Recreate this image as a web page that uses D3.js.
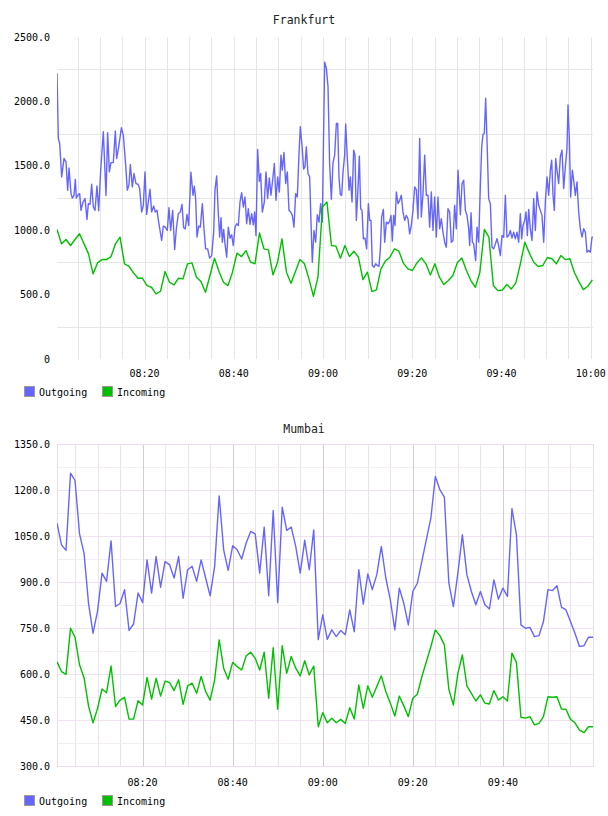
<!DOCTYPE html>
<html>
<head>
<meta charset="utf-8">
<script src="https://cdn.jsdelivr.net/npm/d3@7"></script>
<style>
  body { margin: 0; background: #fff; }
  svg { display: block; font-family: "DejaVu Sans Mono", monospace; }
</style>
</head>
<body>
<svg id="viz" width="608" height="816"></svg>
<script>
// === DATA ===
const seriesNames = ["Outgoing", "Incoming"];
const seriesColors = ["#6666ff", "#00c000"];

// Frankfurt outgoing: [minutes after 08:00, value]
const frankfurtOutgoing = [
  [0.39,2219],[0.69,1712],[0.99,1673],[1.44,1414],[1.96,1557],[2.41,1530],[2.78,1310],[3.08,1484],[3.53,1284],[3.83,1250],
  [4.20,1270],[4.50,1395],[4.72,1250],[5.17,1276],[5.47,1284],[5.77,1154],[6.22,1219],[6.67,1245],[7.11,1084],[7.41,1206],
  [7.79,1201],[8.16,1357],[8.53,1180],[8.91,1154],[9.35,1344],[9.73,1151],[10.18,1466],[10.77,1764],[11.37,1270],[11.74,1757],
  [12.12,1453],[12.49,1525],[13.01,1525],[13.46,1770],[13.76,1557],[14.28,1660],[14.81,1795],[15.25,1738],[15.78,1505],[16.15,1310],
  [16.52,1354],[16.82,1510],[17.27,1336],[17.64,1440],[18.09,1362],[18.54,1357],[18.91,1323],[19.36,1141],[19.74,1193],[20.11,1453],
  [20.48,1123],[20.85,1219],[21.23,1318],[21.60,1141],[22.05,1188],[22.42,1141],[22.80,1154],[23.17,1063],[23.54,985],[23.84,920],
  [24.22,1032],[24.66,1024],[25.11,998],[25.48,1175],[25.86,998],[26.31,1154],[26.76,850],[27.13,1011],[27.58,1128],[28.02,1141],
  [28.40,1201],[28.77,1019],[29.14,1011],[29.52,1123],[29.89,1037],[30.40,1450],
  [30.87,1271],[31.16,1341],[31.46,1245],[31.76,946],[32.14,1032],[32.51,1024],[32.96,1206],[33.33,1011],[33.70,855],[34.15,855],
  [34.60,783],[35.05,803],[35.50,985],[35.79,1310],[36.17,1422],[36.54,1128],[36.84,946],[37.14,1097],[37.44,907],[37.74,1006],
  [38.04,894],[38.41,790],[38.78,1024],[39.16,939],[39.53,964],[39.90,881],[40.28,1024],[40.65,1050],[41.02,1037],[41.40,1219],
  [41.77,1292],[42.14,1180],[42.52,1258],[42.89,1050],[43.26,1167],[43.64,1045],[44.01,1128],[44.38,1042],[44.68,1141],[44.98,959],
  [45.35,1627],[45.73,1380],[46.03,1440],[46.40,1141],[46.85,1219],[47.22,1453],[47.59,1245],[47.97,1406],[48.34,1271],[48.71,1388],
  [49.09,1518],[49.46,1232],[49.84,1414],[50.21,1297],[50.58,1583],[50.88,1466],[51.25,1603],[51.63,1362],[52.00,1453],[52.37,1154],
  [52.75,1141],[53.12,1115],[53.49,1024],[53.87,1284],[54.24,1258],[54.61,1583],[54.91,1803],[55.29,1660],[55.66,1474],[55.96,1492],
  [56.26,1647],[56.63,1440],[57.00,1414],[57.38,985],[57.60,751],[57.98,998],[58.35,907],[58.72,1120],[59.10,1063],[59.47,1206],
  [59.84,1063],
  [60.37,2305],[60.75,2258],[61.12,2115],[61.49,1505],[61.87,1240],[62.24,1525],[62.61,1583],[62.99,1829],[63.29,1829],[63.58,1414],
  [63.88,1276],[64.18,1271],[64.48,1453],[64.85,1583],[65.08,1824],[65.45,1557],[65.83,1310],[66.12,1414],[66.50,1219],[66.87,1622],
  [67.17,1583],[67.47,1076],[67.84,1323],[68.14,1575],[68.44,1167],[68.74,1154],[69.04,933],[69.41,939],[69.78,855],[70.16,1206],
  [70.46,1076],[70.75,1076],[71.05,726],[71.43,713],[71.80,739],[72.17,726],[72.55,720],[72.85,855],[73.14,1102],[73.52,1162],
  [73.82,907],[74.19,1063],[74.56,1050],[74.94,1071],[75.23,1115],[75.53,915],[75.83,1115],[76.13,1037],[76.43,1297],[76.80,1206],
  [77.18,1232],[77.55,1271],[77.92,1141],[78.30,1076],[78.67,1115],[79.04,1089],[79.42,972],[79.79,1037],[80.16,1154],[80.54,1336],
  [80.91,1315],[81.28,1089],[81.66,1712],[82.03,1102],[82.40,1284],[82.78,1583],[83.15,1271],[83.52,1271],[83.90,1024],[84.27,1297],
  [84.64,998],[85.02,1258],[85.39,946],[85.76,1258],[86.14,1011],[86.51,1089],[86.88,985],[87.26,907],[87.63,868],[88.00,1167],
  [88.38,1141],[88.75,907],[89.13,920],[89.50,1193],[89.87,1011],[90.25,1466],
  [90.78,1120],[91.15,1362],[91.52,1388],[91.90,1154],[92.27,1115],[92.64,1011],[92.87,881],[93.17,1136],[93.47,907],[93.76,894],
  [94.21,764],[94.51,1024],[94.88,907],[95.26,1349],[95.56,1647],[95.85,1744],[96.15,1751],[96.45,2024],[96.75,1699],[97.12,1245],
  [97.50,1206],[97.87,868],[98.24,855],[98.62,894],[98.99,933],[99.36,881],[99.74,803],[100.11,959],[100.49,946],[100.86,1271],
  [101.23,946],[101.61,959],[101.98,998],[102.35,939],[102.73,985],[103.10,933],[103.47,985],[103.85,907],[104.22,1128],[104.52,933],
  [104.82,1037],[105.19,1076],[105.49,1141],[105.79,959],[106.09,1162],[106.46,1011],[106.83,920],[107.21,1245],[107.58,998],[107.95,1297],
  [108.33,1193],[108.70,1154],[109.07,1115],[109.45,907],[109.82,1219],[110.19,1414],[110.57,1271],[110.94,1466],[111.24,1544],[111.54,1271],
  [111.84,1154],[112.14,1557],[112.43,1466],[112.81,1362],[113.18,1570],[113.55,1622],[113.93,1323],[114.30,1492],[114.67,1634],[114.90,1972],
  [115.20,1712],[115.49,1258],[115.87,1466],[116.17,1388],[116.54,1271],[116.91,1375],[117.29,1141],[117.66,1011],[118.04,946],[118.41,1011],
  [118.78,985],[119.16,829],[119.53,842],[119.90,829],[120.28,946],[120.50,946]
];

// Frankfurt incoming: one value per minute from 08:00:24
const frankfurtIncomingStart = 0.4;
const frankfurtIncomingStep = 1.008;
const frankfurtIncoming = [
  1006, 894, 928, 881, 928, 972, 894, 816, 661, 746, 772, 772, 795, 894, 946, 739, 720, 668, 627, 627,
  570, 557, 505, 526, 679, 596, 575, 627, 622, 739,
  746, 635, 601, 518, 648, 783, 679, 596, 570, 674, 822, 795, 842, 753, 739, 978, 855, 847, 653, 749,
  933, 674, 588, 679, 772, 739, 622, 487, 635, 1180,
  1219, 881, 876, 783, 881, 795, 837, 790, 617, 674, 523, 536, 700, 760, 790, 855, 837, 744, 700, 687,
  746, 785, 739, 653, 739, 635, 578, 609, 648, 749,
  785, 687, 609, 557, 674, 1006, 946, 570, 531, 536, 578, 544, 591, 739, 907, 822, 749, 718, 726, 788,
  778, 739, 803, 772, 778, 674, 601, 539, 565, 614
];

// Mumbai: one value per minute from 08:01
const mumbaiStart = 1.0;
const mumbaiStep = 1.0;
const mumbaiOutgoing = [
  1092, 1021, 1003, 1255, 1231, 1057, 994, 830, 733, 805, 929, 902, 1034, 820, 830, 875, 742, 763, 864, 833,
  972, 864, 983, 883, 967, 956, 913, 983, 847, 940, 951, 902, 972, 913, 855, 951, 1181, 1005, 938, 1018,
  1005, 975, 1027, 1065, 1057, 929, 1079, 855, 1133, 833, 1144, 1068, 1079, 1016, 929, 1036, 940, 1070, 712,
  793, 713, 744, 722, 742, 728, 809, 738, 940, 828, 926, 875, 924, 1016, 913, 842, 744, 880, 830, 760,
  869, 896, 967, 1038, 1108, 1244, 1201, 1177, 896, 820, 929, 1054, 924, 869, 826, 869, 826, 812, 907, 844,
  880, 853, 1139, 1054, 760, 749, 752, 722, 725, 771, 875, 872, 888, 818, 809, 771, 733, 690, 692, 720, 720
];
const mumbaiIncoming = [
  640, 608, 599, 749, 720, 630, 588, 496, 441, 488, 551, 539, 626, 494, 515, 524, 453, 453, 513, 499,
  589, 518, 586, 528, 577, 572, 546, 581, 501, 561, 570, 537, 592, 543, 515, 581, 711, 619, 583, 638,
  624, 613, 659, 671, 651, 613, 671, 521, 686, 485, 692, 602, 657, 619, 594, 643, 597, 626, 428,
  474, 441, 456, 441, 452, 439, 490, 453, 564, 488, 561, 524, 559, 594, 543, 505, 463, 528, 496, 461,
  521, 534, 591, 640, 689, 744, 725, 695, 550, 499, 602, 662, 561, 537, 512, 532, 505, 502, 546, 515,
  526, 512, 668, 638, 459, 456, 461, 434, 439, 461, 526, 524, 526, 486, 485, 452, 441, 417, 409, 428, 428
];

// axes
const frankfurtYTicks = [0, 500, 1000, 1500, 2000, 2500];
const frankfurtYGrid = [250, 750, 1250, 1750, 2250];
const frankfurtXTicks = ["08:20", "08:40", "09:00", "09:20", "09:40", "10:00"];
const mumbaiYTicks = [300, 450, 600, 750, 900, 1050, 1200, 1350];
const mumbaiYMinor = [375, 525, 675, 825, 975, 1125, 1275];
const mumbaiXTicks = ["08:20", "08:40", "09:00", "09:20", "09:40"];

// === HELPERS ===
const parseHM = d3.timeParse("%H:%M");
const base = parseHM("08:00");
const toTime = m => new Date(base.getTime() + m * 60000);
const yFormat = d => d === 0 ? "0" : d.toFixed(1);

const svg = d3.select("#viz");
const plotLeft = 57, plotRight = 593;

function regular(values, start, step) {
  return values.map((v, i) => ({ t: toTime(start + i * step), v }));
}

// === CHART ===
function drawChart(cfg) {
  const g = svg.append("g");
  const all = cfg.series.flat();

  const x = d3.scaleTime()
    .domain(d3.extent(all, d => d.t))
    .range([plotLeft, plotRight]);
  const y = d3.scaleLinear()
    .domain(cfg.yDomain)
    .range([cfg.bottom, cfg.top]);

  const labelTimes = cfg.xTicks.map(parseHM);
  const minorTimes = x.ticks(d3.timeMinute.every(5));

  // grid
  const grid = g.append("g").attr("shape-rendering", "crispEdges");
  grid.selectAll(".vminor")
    .data(minorTimes.filter(t => !cfg.pink || !labelTimes.some(l => +l === +t)))
    .enter().append("line")
    .attr("x1", d => Math.round(x(d)) + 0.5).attr("x2", d => Math.round(x(d)) + 0.5)
    .attr("y1", cfg.top).attr("y2", cfg.bottom)
    .attr("stroke", cfg.pink ? "#ebe3eb" : "#e6e6e6");

  grid.selectAll(".hgrid")
    .data(cfg.yGrid)
    .enter().append("line")
    .attr("x1", plotLeft).attr("x2", plotRight)
    .attr("y1", d => Math.round(y(d)) + 0.5).attr("y2", d => Math.round(y(d)) + 0.5)
    .attr("stroke", cfg.pink ? "#f4eef4" : "#e6e6e6");

  if (cfg.pink) {
    grid.selectAll(".hmajor")
      .data(cfg.yTicks.slice(1, -1))
      .enter().append("line")
      .attr("x1", plotLeft).attr("x2", plotRight)
      .attr("y1", d => Math.round(y(d)) + 0.5).attr("y2", d => Math.round(y(d)) + 0.5)
      .attr("stroke", "#f0e2f0");
    grid.selectAll(".vmajor")
      .data(labelTimes)
      .enter().append("line")
      .attr("x1", d => Math.round(x(d)) + 0.5).attr("x2", d => Math.round(x(d)) + 0.5)
      .attr("y1", cfg.top).attr("y2", cfg.bottom)
      .attr("stroke", "#dcc8dc");
    grid.append("rect")
      .attr("x", plotLeft + 0.5).attr("y", cfg.top + 0.5)
      .attr("width", plotRight - plotLeft).attr("height", cfg.bottom - cfg.top)
      .attr("fill", "none")
      .attr("stroke", "#ecdcec");
  }

  // title
  g.append("text")
    .attr("x", 304).attr("y", cfg.titleY)
    .attr("text-anchor", "middle")
    .attr("dominant-baseline", "central")
    .style("font-size", "11.5px")
    .attr("fill", "#222")
    .text(cfg.title);

  // y labels
  g.selectAll(".ylab")
    .data(cfg.yTicks)
    .enter().append("text")
    .attr("x", 50).attr("y", d => y(d))
    .attr("text-anchor", "end")
    .attr("dominant-baseline", "central")
    .style("font-size", "10px")
    .attr("fill", "#000")
    .text(yFormat);

  // x labels
  g.selectAll(".xlab")
    .data(labelTimes)
    .enter().append("text")
    .attr("x", d => x(d)).attr("y", cfg.xLabelY)
    .attr("text-anchor", "middle")
    .attr("dominant-baseline", "central")
    .style("font-size", "10px")
    .attr("fill", "#000")
    .text(d3.timeFormat("%H:%M"));

  // lines
  const clipId = "clip-" + cfg.title;
  g.append("clipPath").attr("id", clipId)
    .append("rect")
    .attr("x", plotLeft).attr("y", cfg.top)
    .attr("width", plotRight - plotLeft).attr("height", cfg.bottom - cfg.top);

  const line = d3.line().x(d => x(d.t)).y(d => y(d.v));
  g.append("g").attr("clip-path", `url(#${clipId})`)
    .selectAll("path")
    .data(cfg.series)
    .enter().append("path")
    .attr("fill", "none")
    .attr("stroke", (d, i) => seriesColors[i])
    .attr("stroke-width", 1.4)
    .attr("stroke-linejoin", "round")
    .attr("d", line);

  // legend
  const leg = g.append("g").selectAll("g")
    .data(seriesNames)
    .enter().append("g")
    .attr("transform", (d, i) => `translate(${24 + i * 78},${cfg.legendY})`);
  leg.append("rect")
    .attr("x", 0.5).attr("y", -5.5)
    .attr("width", 10).attr("height", 10)
    .attr("fill", (d, i) => seriesColors[i])
    .attr("stroke", "#999");
  leg.append("text")
    .attr("x", 15).attr("y", 0)
    .attr("dominant-baseline", "central")
    .style("font-size", "10px")
    .attr("fill", "#000")
    .text(d => d);
}

drawChart({
  title: "Frankfurt",
  series: [
    frankfurtOutgoing.map(([m, v]) => ({ t: toTime(m), v })),
    regular(frankfurtIncoming, frankfurtIncomingStart, frankfurtIncomingStep)
  ],
  yDomain: [0, 2500],
  yTicks: frankfurtYTicks,
  yGrid: frankfurtYGrid,
  xTicks: frankfurtXTicks,
  top: 37, bottom: 359,
  titleY: 20, xLabelY: 373, legendY: 392,
  pink: false
});

drawChart({
  title: "Mumbai",
  series: [
    regular(mumbaiOutgoing, mumbaiStart, mumbaiStep),
    regular(mumbaiIncoming, mumbaiStart, mumbaiStep)
  ],
  yDomain: [300, 1350],
  yTicks: mumbaiYTicks,
  yGrid: mumbaiYMinor,
  xTicks: mumbaiXTicks,
  top: 444, bottom: 766,
  titleY: 429, xLabelY: 782, legendY: 801,
  pink: true
});
</script>
</body>
</html>
